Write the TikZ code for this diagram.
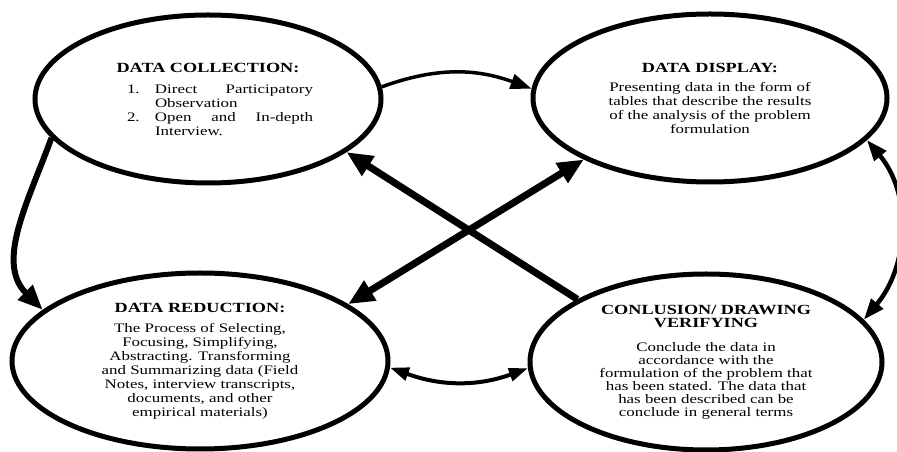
\documentclass[tikz,border=0pt]{standalone}
\usepackage{fontspec}
\setmainfont{Liberation Serif}[FakeStretch=1.3]
\usetikzlibrary{arrows.meta,shapes.geometric}

\newcommand{\stagehead}[1]{{\fontsize{14}{14}\selectfont\bfseries #1}}
\newcommand{\listline}[2]{\hspace*{24pt}\makebox[28pt][l]{#1}\makebox[158pt][s]{#2}}
\newcommand{\listrest}[1]{\makebox[210pt][l]{\hspace*{52pt}#1}}

\begin{document}
\begin{tikzpicture}[
      x=1pt, y=1pt,
      stage/.style={
          ellipse, draw, line width=5pt,
          align=center, inner sep=0pt,
          font={\fontsize{13}{14}\selectfont}
        },
      flow/.style={draw, line width=#1},
      bigtip/.style={-{Triangle[length=26pt,width=22pt]}},
      bigtips/.style={{Triangle[length=26pt,width=22pt]}-{Triangle[length=26pt,width=22pt]}},
      smalltips/.style={{Triangle[length=19pt,width=13pt]}-{Triangle[length=19pt,width=13pt]}},
    ]
    \useasboundingbox (0,0) rectangle (897,452);

    % the four stages
    \node[stage, minimum width=346pt, minimum height=168pt] (coll) at (208,353) {%
        \stagehead{DATA COLLECTION:}\\[7pt]
        \listline{1.}{Direct Participatory}\\
        \listrest{Observation}\\
        \listline{2.}{Open and In-depth}\\
        \listrest{Interview.}};
    \node[stage, minimum width=354pt, minimum height=168pt] (disp) at (710,354) {%
        \stagehead{DATA DISPLAY:}\\[5pt]
        Presenting data in the form of\\
        tables that describe the results\\
        of the analysis of the problem\\
        formulation};
    \node[stage, minimum width=376pt, minimum height=176pt] (red) at (200,91) {%
        \stagehead{DATA REDUCTION:}\\[6pt]
        The Process of Selecting,\\
        Focusing, Simplifying,\\
        Abstracting. Transforming\\
        and Summarizing data (Field\\
        Notes, interview transcripts,\\
        documents, and other\\
        empirical materials)};
    \node[stage, minimum width=352pt, minimum height=176pt,
          font={\fontsize{13}{13}\selectfont}] (concl) at (706,90) {%
        \stagehead{CONLUSION/ DRAWING}\\
        \stagehead{VERIFYING}\\[11pt]
        Conclude the data in\\
        accordance with the\\
        formulation of the problem that\\
        has been stated. The data that\\
        has been described can be\\
        conclude in general terms};

    % connectors
    \draw[flow=3.5pt, -{Triangle[length=21pt,width=15pt]}] (coll.4) to[out=20, in=160] (disp.177);
    \draw[flow=6pt, -{Triangle[length=25pt,width=20pt]}] (coll.194) to[out=250, in=135] (red.162);
    \draw[flow=4pt, smalltips] (red.-2) to[out=-20, in=200] (concl.182);
    \draw[flow=4.5pt, {Triangle[length=21pt,width=15pt]}-{Triangle[length=21pt,width=15pt]}] (disp.-15) to[out=-50, in=50] (concl.15);
    \draw[flow=7pt, bigtip] (concl.154) -- (coll.-21);
    \draw[flow=7pt, bigtips] (red.21) -- (disp.206);
  \end{tikzpicture}
\end{document}
